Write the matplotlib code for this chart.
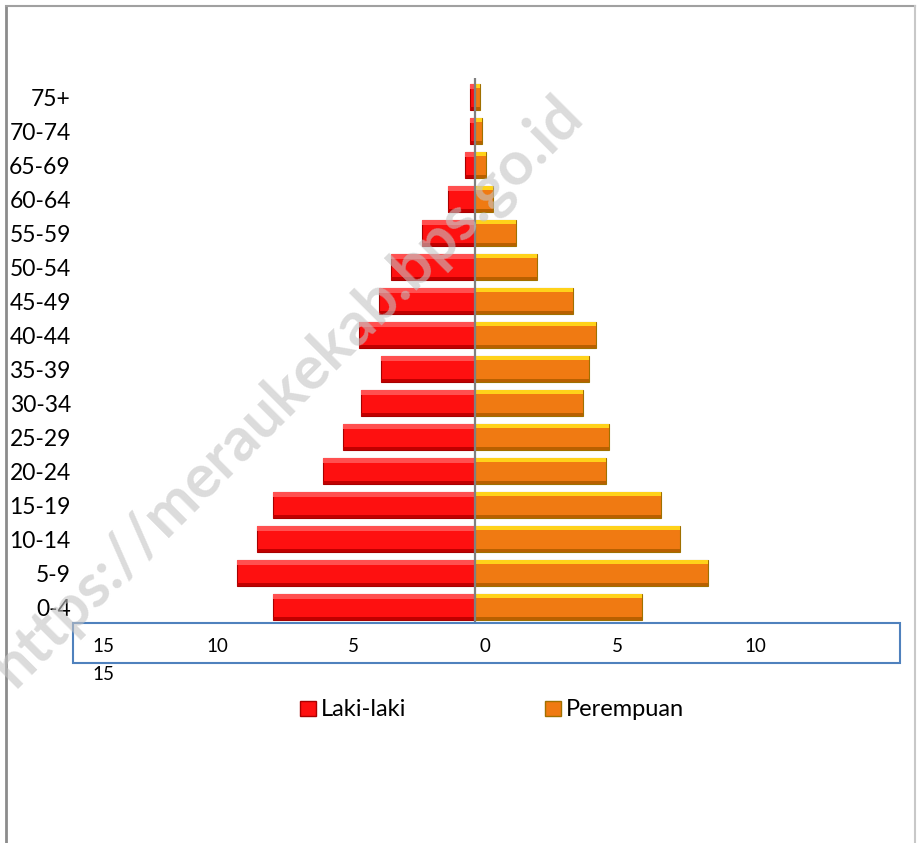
import matplotlib.pyplot as plt
import matplotlib.patches as mpatches
from matplotlib.lines import Line2D
import numpy as np

plt.rcParams['font.family'] = ['Lato', 'DejaVu Sans']

# data
age_groups = ['0-4', '5-9', '10-14', '15-19', '20-24', '25-29', '30-34', '35-39',
              '40-44', '45-49', '50-54', '55-59', '60-64', '65-69', '70-74', '75+']
laki = [7.50, 8.83, 8.07, 7.50, 5.64, 4.90, 4.22, 3.49,
        4.31, 3.56, 3.12, 1.95, 0.99, 0.37, 0.19, 0.19]
perempuan = [6.17, 8.62, 7.59, 6.89, 4.84, 4.97, 4.01, 4.23,
             4.47, 3.64, 2.31, 1.51, 0.68, 0.41, 0.25, 0.19]
axis_labels = ['15', '10', '5', '0', '5', '10']
legend_labels = ['Laki-laki', 'Perempuan']

W, H = 917, 843
fig = plt.figure(figsize=(W / 100, H / 100), dpi=100)

# axes in pixel terms
left, right, top, bottom = 75, 900, 78, 623
ax = fig.add_axes([left / W, 1 - bottom / H, (right - left) / W, (bottom - top) / H])

y = np.arange(len(age_groups))
m = -np.array(laki)
f = np.array(perempuan)
h = 0.79

# bars with a simple bevel look
ax.barh(y, m, height=h, color='#fe1010', edgecolor='#a80000', linewidth=0.8, zorder=2)
ax.barh(y + h / 2 - 0.08, m, height=0.16, color='#ff5050', linewidth=0, zorder=3)
ax.barh(y - h / 2 + 0.05, m, height=0.1, color='#c00000', linewidth=0, zorder=3)

ax.barh(y, f, height=h, color='#f07a12', edgecolor='#a07000', linewidth=0.8, zorder=2)
ax.barh(y + h / 2 - 0.07, f, height=0.14, color='#ffd21a', linewidth=0, zorder=3)
ax.barh(y - h / 2 + 0.05, f, height=0.1, color='#b86000', linewidth=0, zorder=3)

ax.axvline(0, color='#808080', linewidth=1.6, zorder=4)

px = 27.0  # pixels per unit
ax.set_xlim((left - 475) / px, (right - 475) / px)
ax.set_ylim(-0.47, 15 + (97 - top) / 34)

ax.set_yticks(y)
ax.set_yticklabels(age_groups, fontsize=16.5)
ax.tick_params(axis='y', length=0, pad=3)
ax.set_xticks([])
for s in ax.spines.values():
    s.set_visible(False)

# x-axis box with labels
fig.patches.append(mpatches.Rectangle((73 / W, 1 - 663 / H), (900 - 73) / W, 40 / H,
                                      transform=fig.transFigure, fill=False,
                                      edgecolor='#4f81bd', linewidth=1.5))
label_x = [103, 217, 353, 485, 617, 755]
for lx, lab in zip(label_x, axis_labels):
    fig.text(lx / W, 1 - 647 / H, lab, ha='center', va='center', fontsize=13.5)
fig.text(103 / W, 1 - 674 / H, axis_labels[0], ha='center', va='center', fontsize=13.5)

# legend
handles = [mpatches.Patch(facecolor='#fe1010', edgecolor='#a80000'),
           mpatches.Patch(facecolor='#f07a12', edgecolor='#a07000')]
fig.legend(handles, legend_labels, loc='center', bbox_to_anchor=(492 / W, 1 - 710 / H),
           ncol=2, frameon=False, fontsize=17, handlelength=0.68, handleheight=0.62,
           handletextpad=0.2, columnspacing=5.9)

# watermark
fig.text(573 / W, 1 - 106 / H, 'https://meraukekab.bps.go.id', rotation=45,
         rotation_mode='anchor', ha='right', va='center', fontsize=44,
         fontweight='bold', color='#c4c4c4', alpha=0.6, zorder=10)

# outer frame
fig.add_artist(Line2D([6 / W, 6 / W], [0, 1 - 6 / H], color='#8c8c8c', linewidth=2))
fig.add_artist(Line2D([6 / W, 915 / W], [1 - 6 / H, 1 - 6 / H], color='#a0a0a0', linewidth=1.5))
fig.add_artist(Line2D([915 / W, 915 / W], [0, 1 - 6 / H], color='#c8c8c8', linewidth=1.5))

fig.savefig('out.png', dpi=100)
